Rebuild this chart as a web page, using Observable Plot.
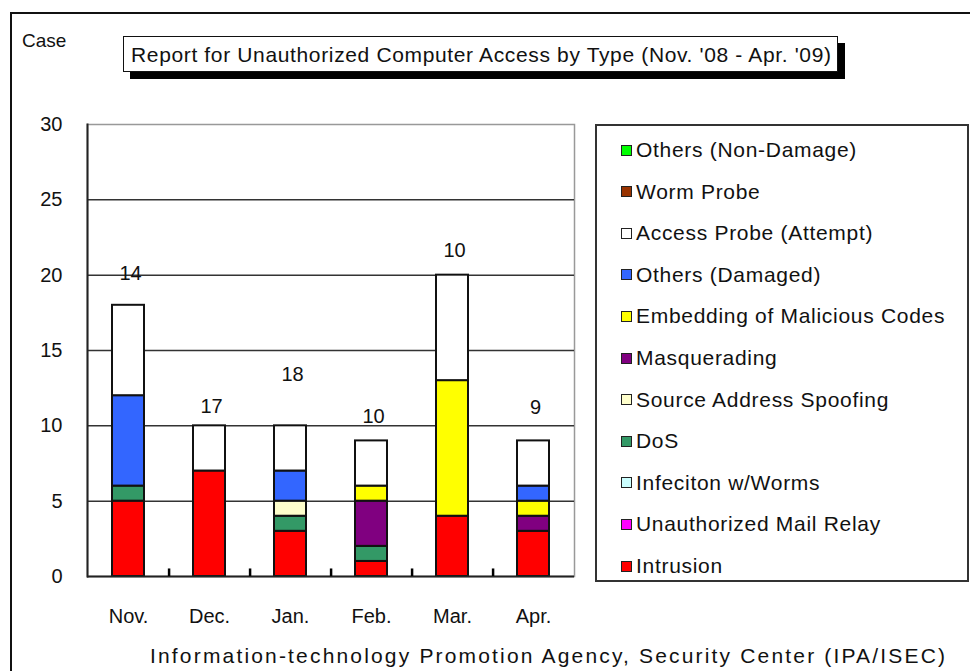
<!DOCTYPE html>
<html>
<head>
<meta charset="utf-8">
<script src="https://cdn.jsdelivr.net/npm/d3@7"></script>
<script src="https://cdn.jsdelivr.net/npm/@observablehq/plot@0.6"></script>
<style>
  html, body { margin: 0; padding: 0; background: #fff; overflow: hidden; }
  #wrap { position: relative; width: 970px; height: 671px; overflow: hidden; font-family: "Liberation Sans", Arial, sans-serif; color: #111; }
  #outer { position: absolute; left: 10px; top: 12px; width: 1000px; height: 700px; border: 2px solid #111; }
  #plot { position: absolute; left: 0; top: 0; }
  .txt { position: absolute; white-space: nowrap; line-height: 1; }
  #title { position: absolute; left: 123px; top: 36px; width: 713px; height: 34px; border: 1.5px solid #111; background: #fff; box-shadow: 7px 7px 0 #000; }
  #title span { position: absolute; left: 7px; top: 7px; font-size: 21px; white-space: nowrap; line-height: 1; }
  #legend { position: absolute; left: 595px; top: 124px; width: 370px; height: 454px; border: 2px solid #333; background: #fff; }
  .item { position: absolute; left: 24px; height: 24px; display: flex; align-items: center; }
  .sw { width: 9px; height: 9px; border: 1.5px solid #222; margin-right: 4px; }
  .lab { font-size: 21px; letter-spacing: 0.7px; white-space: nowrap; }
</style>
</head>
<body>
<div id="wrap">
  <div id="outer"></div>
  <div id="plot"></div>
  <div class="txt" id="caseLabel" style="left:22px; top:31px; font-size:19px;">Case</div>
  <div id="title"><span id="titleText">Report for Unauthorized Computer Access by Type (Nov. '08 - Apr. '09)</span></div>
  <div id="legend"></div>
  <div class="txt" id="source" style="left:150px; top:645px; font-size:21px;">Information-technology Promotion Agency, Security Center (IPA/ISEC)</div>
</div>
<script>
// ---- data ----
const months = ["Nov.", "Dec.", "Jan.", "Feb.", "Mar.", "Apr."];
const types = [
  "Intrusion",
  "Unauthorized Mail Relay",
  "Infeciton w/Worms",
  "DoS",
  "Source Address Spoofing",
  "Masquerading",
  "Embedding of Malicious Codes",
  "Others (Damaged)",
  "Access Probe (Attempt)",
  "Worm Probe",
  "Others (Non-Damage)"
];
const colors = ["#ff0000", "#ff00ff", "#ccffff", "#339966", "#ffffcc", "#800080", "#ffff00", "#3366ff", "#ffffff", "#993300", "#00ff00"];
const intrusion       = [5, 7, 3, 1, 4, 3];
const mailRelay       = [0, 0, 0, 0, 0, 0];
const infection       = [0, 0, 0, 0, 0, 0];
const dos             = [1, 0, 1, 1, 0, 0];
const spoofing        = [0, 0, 1, 0, 0, 0];
const masquerading    = [0, 0, 0, 3, 0, 1];
const embedding       = [0, 0, 0, 1, 9, 1];
const othersDamaged   = [6, 0, 2, 0, 0, 1];
const accessProbe     = [6, 3, 3, 3, 7, 3];
const wormProbe       = [0, 0, 0, 0, 0, 0];
const othersNonDamage = [0, 0, 0, 0, 0, 0];
const barLabels  = ["14", "17", "18", "10", "10", "9"];
const labelLevel = [20.1, 11.3, 13.4, 10.6, 21.6, 11.2];
const yTicks = [0, 5, 10, 15, 20, 25, 30];

const series = [intrusion, mailRelay, infection, dos, spoofing, masquerading, embedding, othersDamaged, accessProbe, wormProbe, othersNonDamage];
const rows = [];
series.forEach((vals, ti) => vals.forEach((v, mi) => {
  if (v > 0) rows.push({month: months[mi], type: types[ti], value: v, order: ti});
}));
const labelRows = months.map((m, i) => ({month: m, level: labelLevel[i], text: barLabels[i]}));
const boundaryRows = months.slice(0, -1).map(m => ({month: m, lo: 0, hi: 0.5}));

// ---- layout ----
const W = 600, H = 671, mL = 87, mR = 26, mT = 124, mB = 95;
const pInner = 0.6, pOuter = 0.3;
const step = (W - mL - mR) / (months.length - pInner + 2 * pOuter);

const plot = Plot.plot({
  width: W, height: H,
  marginLeft: mL, marginRight: mR, marginTop: mT, marginBottom: mB,
  style: {fontFamily: "Liberation Sans, Arial, sans-serif", fontSize: "20px", color: "#111", background: "transparent"},
  x: {domain: months, paddingInner: pInner, paddingOuter: pOuter, label: null},
  y: {domain: [0, 30], label: null},
  color: {domain: types, range: colors},
  marks: [
    Plot.frame({stroke: "#999", strokeWidth: 1.5}),
    Plot.gridY(yTicks.slice(1, -1), {stroke: "#333", strokeOpacity: 1, strokeWidth: 1.5}),
    Plot.barY(rows, {x: "month", y: "value", fill: "type", order: types, stroke: "#111", strokeWidth: 2}),
    Plot.ruleY([0], {stroke: "#222", strokeWidth: 2}),
    Plot.frame({anchor: "left", stroke: "#222", strokeWidth: 2}),
    Plot.ruleX(boundaryRows, {x: "month", y1: "lo", y2: "hi", dx: step / 2, stroke: "#000", strokeWidth: 2.5, strokeOpacity: 1}),
    Plot.axisY(yTicks, {tickSize: 0, tickPadding: 25, fontSize: 20, label: null}),
    Plot.axisX({tickSize: 0, tickPadding: 32, fontSize: 20, label: null}),
    Plot.text(labelRows, {x: "month", y: "level", text: "text", fontSize: 20, dx: 2, fill: "#111"})
  ]
});
document.getElementById("plot").appendChild(plot);

// ---- legend ----
const legend = document.getElementById("legend");
const legendOrder = types.map((t, i) => i).reverse();
legendOrder.forEach((ti, k) => {
  const item = document.createElement("div");
  item.className = "item";
  item.style.top = (12 + k * 41.6) + "px";
  const sw = document.createElement("div");
  sw.className = "sw";
  sw.style.background = colors[ti];
  const lab = document.createElement("span");
  lab.className = "lab";
  lab.textContent = types[ti];
  item.appendChild(sw); item.appendChild(lab);
  legend.appendChild(item);
});

// ---- fit text widths ----
function fit(el, target) {
  const w = el.getBoundingClientRect().width;
  const n = el.textContent.length;
  if (n > 1) el.style.letterSpacing = ((target - w) / (n - 1)) + "px";
}
fit(document.getElementById("titleText"), 700);
fit(document.getElementById("source"), 795);
</script>
</body>
</html>
